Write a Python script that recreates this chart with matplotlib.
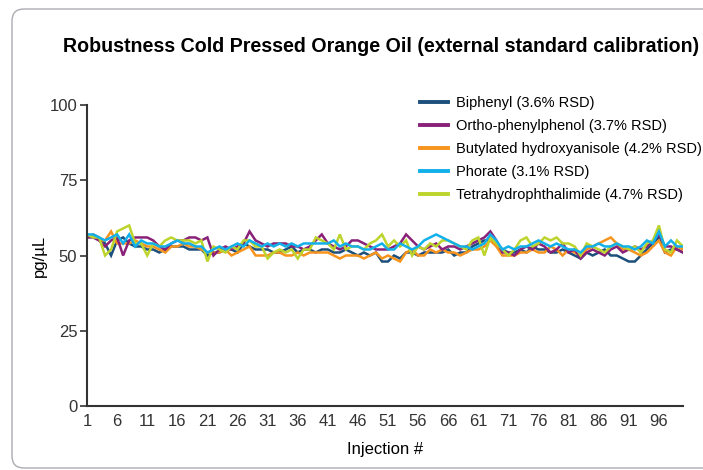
import matplotlib
matplotlib.use('Agg')
import matplotlib.pyplot as plt
from matplotlib.path import Path as MplPath
from matplotlib.patches import PathPatch
import numpy as np

# Injection numbers 1..100
injections = np.arange(1, 101)

biphenyl = [
    56, 57, 56, 54, 50, 55, 56, 54, 53, 53,
    52, 52, 51, 52, 53, 53, 53, 52, 52, 52,
    50, 51, 51, 52, 52, 51, 54, 53, 52, 52,
    52, 51, 51, 52, 53, 51, 52, 52, 51, 52,
    52, 51, 51, 52, 51, 50, 51, 50, 51, 48,
    48, 50, 49, 51, 51, 50, 51, 51, 51, 51,
    52, 50, 51, 51, 53, 54, 55, 55, 54, 52,
    51, 51, 52, 51, 53, 52, 52, 51, 51, 52,
    51, 50, 49, 51, 50, 51, 52, 50, 50, 49,
    48, 48, 50, 52, 54, 56, 51, 52, 52, 51,
]
ortho_phenylphenol = [
    56, 56, 55, 53, 55, 56, 50, 55, 56, 56,
    56, 55, 53, 52, 54, 55, 55, 56, 56, 55,
    56, 50, 52, 53, 52, 53, 54, 58, 55, 54,
    53, 54, 54, 54, 53, 53, 52, 53, 55, 57,
    54, 53, 52, 53, 55, 55, 54, 53, 52, 52,
    52, 53, 54, 57, 55, 53, 52, 53, 54, 52,
    53, 53, 52, 53, 54, 55, 56, 58, 55, 51,
    51, 50, 52, 53, 52, 54, 53, 51, 52, 54,
    51, 52, 49, 51, 52, 51, 50, 52, 53, 51,
    52, 53, 52, 53, 55, 57, 53, 53, 52, 51,
]
bha = [
    56, 57, 55, 55, 58, 54, 54, 54, 55, 54,
    53, 53, 52, 51, 53, 53, 54, 53, 53, 52,
    51, 51, 51, 52, 50, 51, 52, 53, 50, 50,
    50, 51, 51, 50, 50, 51, 50, 51, 51, 51,
    51, 50, 49, 50, 50, 50, 49, 50, 51, 49,
    50, 49, 48, 51, 52, 50, 50, 52, 51, 52,
    51, 51, 50, 51, 52, 52, 53, 55, 53, 50,
    50, 50, 51, 51, 52, 51, 51, 53, 52, 50,
    52, 51, 50, 52, 53, 54, 55, 56, 54, 52,
    52, 51, 50, 51, 53, 55, 51, 50, 53, 52,
]
phorate = [
    57, 57, 56, 55, 56, 57, 54, 57, 53, 55,
    54, 54, 53, 53, 54, 55, 54, 54, 53, 53,
    51, 52, 53, 52, 53, 54, 53, 55, 54, 53,
    54, 53, 54, 53, 54, 53, 54, 54, 54, 54,
    54, 55, 53, 54, 53, 53, 52, 52, 53, 54,
    52, 52, 54, 53, 52, 53, 55, 56, 57, 56,
    55, 54, 53, 53, 52, 53, 54, 57, 55, 52,
    53, 52, 53, 53, 54, 55, 54, 53, 54, 53,
    52, 52, 51, 53, 53, 54, 53, 53, 54, 53,
    53, 52, 53, 55, 54, 58, 53, 55, 53, 53,
]
tetrahydrophthalimide = [
    57, 56, 56, 50, 52, 58, 59, 60, 54, 54,
    50, 54, 53, 55, 56, 55, 55, 55, 54, 55,
    48, 53, 52, 51, 53, 52, 55, 55, 53, 53,
    49, 51, 52, 51, 52, 49, 52, 52, 56, 55,
    54, 52, 57, 52, 53, 53, 52, 54, 55, 57,
    53, 55, 53, 55, 50, 53, 52, 54, 53, 55,
    55, 54, 53, 52, 55, 56, 50, 56, 54, 52,
    50, 52, 55, 56, 53, 54, 56, 55, 56, 54,
    54, 53, 50, 54, 53, 52, 51, 53, 54, 53,
    52, 53, 51, 54, 55, 60, 52, 51, 55, 53,
]

labels = [
    'Biphenyl (3.6% RSD)',
    'Ortho-phenylphenol (3.7% RSD)',
    'Butylated hydroxyanisole (4.2% RSD)',
    'Phorate (3.1% RSD)',
    'Tetrahydrophthalimide (4.7% RSD)',
]
colors = ['#1d4f7c', '#8a2179', '#f7941d', '#12b0ea', '#bdd42c']

xtick_pos = list(range(1, 100, 5))
xtick_labels = ['1', '6', '11', '16', '21', '26', '31', '36', '41', '46',
                '51', '56', '66', '61', '71', '76', '81', '86', '91', '96']
ytick_pos = [0, 25, 50, 75, 100]

font = ['Liberation Sans', 'DejaVu Sans']
W, H = 703, 470

fig = plt.figure(figsize=(W / 100, H / 100), dpi=100)
fig.patch.set_facecolor('white')

# rounded panel frame, open on the right (it runs past the edge)
x0, yb, yt, r = 12, 2, 461, 12
pts = [(760, yt), (x0 + r, yt), (x0, yt), (x0, yt - r), (x0, yb + r),
       (x0, yb), (x0 + r, yb), (760, yb)]
codes = [MplPath.MOVETO, MplPath.LINETO, MplPath.CURVE3, MplPath.CURVE3,
         MplPath.LINETO, MplPath.CURVE3, MplPath.CURVE3, MplPath.LINETO]
frame_path = MplPath([(px / W, py / H) for px, py in pts], codes)
fig.add_artist(PathPatch(frame_path, transform=fig.transFigure, facecolor='none',
                         edgecolor='#a9acb0', linewidth=1.0))

fig.text(63 / W, 1 - 46 / H,
         'Robustness Cold Pressed Orange Oil (external standard calibration)',
         fontsize=14.1, fontweight='bold', family=font,
         ha='left', va='center')

ax = fig.add_axes([87 / W, 1 - 406 / H, 596 / W, 301 / H])

series = [biphenyl, ortho_phenylphenol, bha, phorate, tetrahydrophthalimide]
handles = [None] * 5
for idx in [0, 2, 1, 4, 3]:
    line, = ax.plot(injections, series[idx], color=colors[idx], linewidth=1.8,
                    label=labels[idx], solid_joinstyle='miter')
    handles[idx] = line

ax.set_xlim(1, 100)
ax.set_ylim(0, 100)
ax.set_xticks(xtick_pos)
ax.set_xticklabels(xtick_labels, family=font, fontsize=12)
ax.set_yticks(ytick_pos)
ax.set_yticklabels([str(v) for v in ytick_pos], family=font, fontsize=12)
ax.tick_params(axis='x', length=0, pad=6, colors='#333333')
ax.tick_params(axis='y', length=5, width=1.2, direction='out', pad=2, colors='#333333')
for s in ['top', 'right']:
    ax.spines[s].set_visible(False)
for s in ['left', 'bottom']:
    ax.spines[s].set_color('#333333')
    ax.spines[s].set_linewidth(1.5)

ax.set_xlabel('Injection #', family=font, fontsize=12, labelpad=9)
ax.set_ylabel('pg/µL', family=font, fontsize=12, labelpad=2)

leg = fig.legend(handles, labels, loc='upper left',
                 bbox_to_anchor=(420 / W, 1 - 96 / H),
                 frameon=False, prop={'family': font, 'size': 10.5},
                 handlelength=1.9, handletextpad=0.55, labelspacing=0.62,
                 borderpad=0, borderaxespad=0)
for h in leg.get_lines():
    h.set_linewidth(2.8)

fig.savefig('out.png', dpi=100)
